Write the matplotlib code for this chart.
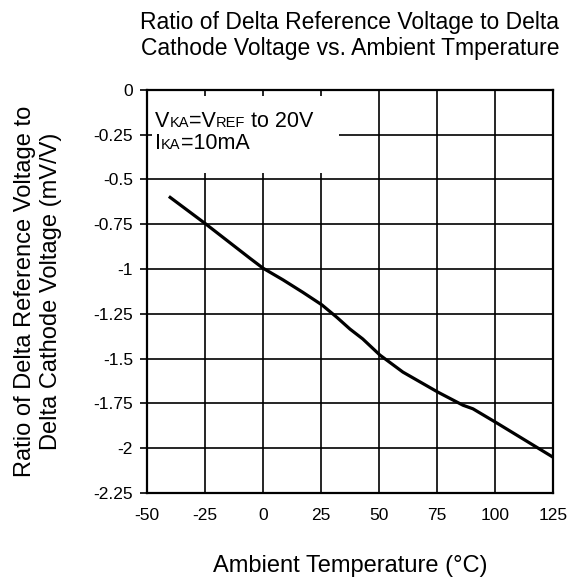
"""
Ratio of delta reference voltage to delta cathode voltage against ambient temperature.
"""

import matplotlib
matplotlib.use('Agg')
import matplotlib.pyplot as plt
from matplotlib.patches import Rectangle
from matplotlib.offsetbox import TextArea, HPacker, VPacker, AnchoredOffsetbox

plt.rcParams['font.family'] = ['Liberation Sans', 'DejaVu Sans']

# Curve read point by point (deg C, mV/V)
temperature = [-40, -25, -5.6, 0, 8.6, 17.2, 25.4, 31.9, 37.5, 43, 50.4,
               60.3, 75.4, 86.2, 90.5, 100.9, 125]
ratio = [-0.60, -0.745, -0.94, -0.995, -1.06, -1.13, -1.20, -1.27, -1.335,
         -1.39, -1.48, -1.575, -1.687, -1.76, -1.78, -1.86, -2.05]

x_ticks = [-50, -25, 0, 25, 50, 75, 100, 125]
y_ticks = [0, -0.25, -0.5, -0.75, -1, -1.25, -1.5, -1.75, -2, -2.25]
y_tick_labels = ['0', '-0.25', '-0.5', '-0.75', '-1', '-1.25', '-1.5',
                 '-1.75', '-2', '-2.25']

fig = plt.figure(figsize=(5.8, 5.8), dpi=100)
ax = fig.add_axes([0.2534, 0.15, 0.70, 0.695])

ax.plot(temperature, ratio, color='black', linewidth=2.3, zorder=3)

ax.set_xlim(-50, 125)
ax.set_ylim(-2.25, 0)
ax.set_xticks(x_ticks)
ax.set_xticklabels([str(t) for t in x_ticks])
ax.set_yticks(y_ticks)
ax.set_yticklabels(y_tick_labels)
ax.tick_params(axis='x', length=0, pad=11, labelsize=12.5)
ax.tick_params(axis='y', direction='out', length=5, width=1.2, pad=5, labelsize=12.5)

ax.set_axisbelow(True)
ax.grid(True, color='black', linewidth=1.2)
for spine in ax.spines.values():
    spine.set_linewidth(1.6)

# white patch behind the test conditions
ax.add_patch(Rectangle((0.012, 0.794), 0.46, 0.191, transform=ax.transAxes,
                       facecolor='white', edgecolor='none', zorder=1.5))

big = dict(fontsize=15.5, color='black')
small = dict(fontsize=10.5, color='black')
line1 = HPacker(children=[TextArea('V', textprops=big), TextArea('KA', textprops=small),
                          TextArea('=V', textprops=big), TextArea('REF', textprops=small),
                          TextArea(' to 20V', textprops=big)],
                align='baseline', pad=0, sep=0)
line2 = HPacker(children=[TextArea('I', textprops=big), TextArea('KA', textprops=small),
                          TextArea('=10mA', textprops=big)],
                align='baseline', pad=0, sep=0)
cond = VPacker(children=[line1, line2], align='left', pad=0, sep=1)
box = AnchoredOffsetbox(loc='upper left', child=cond, pad=0, borderpad=0, frameon=False,
                        bbox_to_anchor=(0.02, 0.948), bbox_transform=ax.transAxes)
box.set_zorder(4)
ax.add_artist(box)

ax.set_title('Ratio of Delta Reference Voltage to Delta\n'
             'Cathode Voltage vs. Ambient Tmperature',
             fontsize=16.5, linespacing=1.2, pad=25)
ax.set_xlabel('Ambient Temperature (\u00b0C)', fontsize=17)
ax.xaxis.set_label_coords(0.5, -0.155)
ax.set_ylabel('Ratio of Delta Reference Voltage to\nDelta Cathode Voltage (mV/V)',
              fontsize=17, linespacing=1.2)
ax.yaxis.set_label_coords(-0.21, 0.5)

fig.savefig('out.png', dpi=100)
